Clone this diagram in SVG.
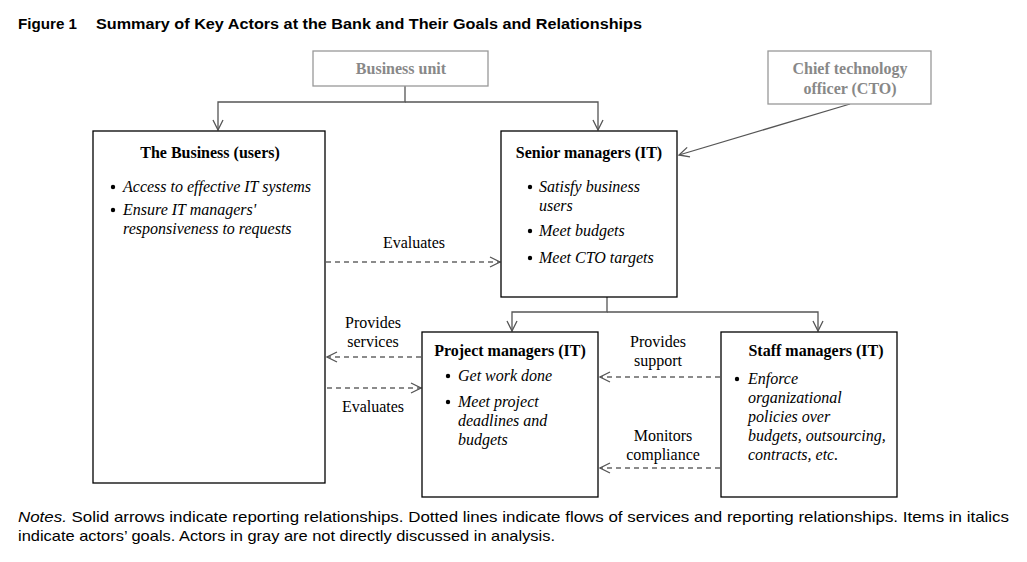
<svg xmlns="http://www.w3.org/2000/svg" width="1027" height="562" viewBox="0 0 1027 562">
<style>
.box{fill:#fff;stroke:#000;stroke-width:1.3}
.gbox{fill:#fff;stroke:#999;stroke-width:1.3}
.t{font-family:"Liberation Serif","Times New Roman",serif;font-size:16px;fill:#000}
.b{font-weight:bold}
.i{font-style:italic}
.g{fill:#888;font-weight:bold}
.c{text-anchor:middle}
.solid{fill:none;stroke:#555;stroke-width:1.3}
.dash{fill:none;stroke:#666;stroke-width:1.3;stroke-dasharray:5 4}
.s{font-family:"Liberation Sans",Arial,sans-serif;fill:#000}
</style>
<defs>
<marker id="arr" viewBox="0 0 12 12" refX="11" refY="6" markerWidth="12" markerHeight="12" markerUnits="userSpaceOnUse" orient="auto">
<path d="M1,1 L11,6 L1,11" fill="none" stroke="#555" stroke-width="1.3"/>
</marker>
</defs>
<text class="s" x="18" y="29" font-size="14" font-weight="bold" textLength="59" lengthAdjust="spacingAndGlyphs">Figure 1</text>
<text class="s" x="96" y="29" font-size="14" font-weight="bold" textLength="546" lengthAdjust="spacingAndGlyphs">Summary of Key Actors at the Bank and Their Goals and Relationships</text>

<g id="connectors">
<polyline class="solid" points="405,86 405,102 218,102 218,130" marker-end="url(#arr)"/>
<polyline class="solid" points="405,102 598,102 598,130" marker-end="url(#arr)"/>
<line class="solid" x1="850" y1="104" x2="679" y2="155" marker-end="url(#arr)"/>
<polyline class="solid" points="607,297 607,312 512,312 512,331" marker-end="url(#arr)"/>
<polyline class="solid" points="607,312 818,312 818,331" marker-end="url(#arr)"/>
<line class="dash" x1="326" y1="262" x2="500" y2="262" marker-end="url(#arr)"/>
<text class="t c" x="414" y="248">Evaluates</text>
<line class="dash" x1="421" y1="357" x2="327" y2="357" marker-end="url(#arr)"/>
<text class="t c" x="373" y="328">Provides</text>
<text class="t c" x="373" y="347">services</text>
<line class="dash" x1="327" y1="388" x2="421" y2="388" marker-end="url(#arr)"/>
<text class="t c" x="373" y="412">Evaluates</text>
<line class="dash" x1="720" y1="377" x2="600" y2="377" marker-end="url(#arr)"/>
<text class="t c" x="658" y="347">Provides</text>
<text class="t c" x="658" y="366">support</text>
<line class="dash" x1="720" y1="468" x2="600" y2="468" marker-end="url(#arr)"/>
<text class="t c" x="663" y="441">Monitors</text>
<text class="t c" x="663" y="460">compliance</text>
</g>

<g id="business-unit">
<rect class="gbox" x="313" y="51" width="175" height="35"/>
<text class="t g c" x="401" y="74">Business unit</text>
</g>

<g id="cto">
<rect class="gbox" x="768" y="51" width="163" height="53"/>
<text class="t g c" x="850" y="74">Chief technology</text>
<text class="t g c" x="850" y="94">officer (CTO)</text>
</g>

<g id="the-business">
<rect class="box" x="93" y="131" width="232" height="352"/>
<text class="t b c" x="210" y="158">The Business (users)</text>
<circle cx="113" cy="187" r="2.2"/>
<text class="t i" x="123" y="192">Access to effective IT systems</text>
<circle cx="113" cy="210" r="2.2"/>
<text class="t i" x="123" y="215">Ensure IT managers'</text>
<text class="t i" x="123" y="234">responsiveness to requests</text>
</g>

<g id="senior-managers">
<rect class="box" x="501" y="131" width="176" height="166"/>
<text class="t b c" x="589" y="158">Senior managers (IT)</text>
<circle cx="530" cy="187" r="2.2"/>
<text class="t i" x="539" y="192">Satisfy business</text>
<text class="t i" x="539" y="211">users</text>
<circle cx="530" cy="231" r="2.2"/>
<text class="t i" x="539" y="236">Meet budgets</text>
<circle cx="530" cy="258" r="2.2"/>
<text class="t i" x="539" y="263">Meet CTO targets</text>
</g>

<g id="project-managers">
<rect class="box" x="422" y="332" width="176" height="165"/>
<text class="t b c" x="510" y="356">Project managers (IT)</text>
<circle cx="448" cy="376" r="2.2"/>
<text class="t i" x="458" y="381">Get work done</text>
<circle cx="448" cy="402" r="2.2"/>
<text class="t i" x="458" y="407">Meet project</text>
<text class="t i" x="458" y="426">deadlines and</text>
<text class="t i" x="458" y="445">budgets</text>
</g>

<g id="staff-managers">
<rect class="box" x="721" y="332" width="176" height="165"/>
<text class="t b c" x="816" y="356">Staff managers (IT)</text>
<circle cx="737" cy="379" r="2.2"/>
<text class="t i" x="748" y="384">Enforce</text>
<text class="t i" x="748" y="403">organizational</text>
<text class="t i" x="748" y="422">policies over</text>
<text class="t i" x="748" y="441">budgets, outsourcing,</text>
<text class="t i" x="748" y="460">contracts, etc.</text>
</g>

<text class="s" x="18" y="522" font-size="15" textLength="991" lengthAdjust="spacingAndGlyphs"><tspan font-style="italic">Notes.</tspan> Solid arrows indicate reporting relationships. Dotted lines indicate flows of services and reporting relationships. Items in italics</text>
<text class="s" x="18" y="541" font-size="15" textLength="537" lengthAdjust="spacingAndGlyphs">indicate actors’ goals. Actors in gray are not directly discussed in analysis.</text>
</svg>
